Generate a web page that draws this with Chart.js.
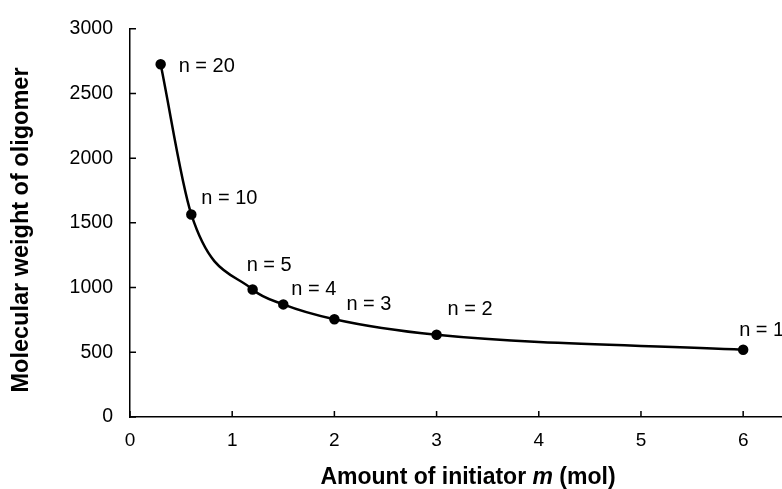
<!DOCTYPE html>
<html>
<head>
<meta charset="utf-8">
<script src="https://cdn.jsdelivr.net/npm/chart.js@4.4.1/dist/chart.umd.min.js"></script>
<style>
  html, body { margin: 0; padding: 0; background: #fff; overflow: hidden; }
  canvas { display: block; }
</style>
</head>
<body>
<canvas id="myChart" width="782" height="489"></canvas>
<script>
const initiator = [0.3, 0.6, 1.2, 1.5, 2, 3, 6];
const molWeight = [2725, 1565, 985, 870, 755, 635, 520];
const pointLabels = ["n = 20", "n = 10", "n = 5", "n = 4", "n = 3", "n = 2", "n = 1"];
// where each label sits relative to its point (px)
const labelOffsets = [[18, 2], [10, -16], [-6, -24], [8, -15], [12, -15], [11, -25], [-4, -19]];

const ctx = document.getElementById("myChart");
const font = "'Liberation Sans', Arial, sans-serif";

// inner tick marks + axis titles
const axisExtras = {
  id: "axisExtras",
  afterDraw(chart) {
    const c = chart.ctx;
    const x = chart.scales.x;
    const y = chart.scales.y;
    c.save();
    c.strokeStyle = "#000";
    c.lineWidth = 1.5;
    c.beginPath();
    x.ticks.forEach((t) => {
      const px = x.getPixelForValue(t.value);
      c.moveTo(px, y.bottom);
      c.lineTo(px, y.bottom - 6);
    });
    y.ticks.forEach((t) => {
      const py = y.getPixelForValue(t.value);
      c.moveTo(x.left, py);
      c.lineTo(x.left + 6, py);
    });
    c.stroke();

    c.fillStyle = "#000";
    c.textBaseline = "middle";

    // x title, m in italics
    const parts = [
      ["Amount of initiator ", "bold 23px " + font],
      ["m", "italic bold 23px " + font],
      [" (mol)", "bold 23px " + font],
    ];
    let total = 0;
    parts.forEach((p) => { c.font = p[1]; total += c.measureText(p[0]).width; });
    let tx = 468 - total / 2;
    c.textAlign = "left";
    parts.forEach((p) => {
      c.font = p[1];
      c.fillText(p[0], tx, 478);
      tx += c.measureText(p[0]).width;
    });

    // y title
    c.save();
    c.translate(22, 230);
    c.rotate(-Math.PI / 2);
    c.textAlign = "center";
    c.font = "bold 23.5px " + font;
    c.fillText("Molecular weight of oligomer", 0, 0);
    c.restore();
    c.restore();
  },
};

const nLabels = {
  id: "nLabels",
  afterDatasetsDraw(chart) {
    const c = chart.ctx;
    const meta = chart.getDatasetMeta(0);
    c.save();
    c.fillStyle = "#000";
    c.font = "20px " + font;
    c.textBaseline = "middle";
    c.textAlign = "left";
    meta.data.forEach((pt, i) => {
      c.fillText(pointLabels[i], pt.x + labelOffsets[i][0], pt.y + labelOffsets[i][1]);
    });
    c.restore();
  },
};

new Chart(ctx, {
  type: "scatter",
  data: {
    datasets: [
      {
        data: initiator.map((v, i) => ({ x: v, y: molWeight[i] })),
        showLine: true,
        borderColor: "#000",
        backgroundColor: "#000",
        borderWidth: 2.5,
        pointRadius: 4,
        cubicInterpolationMode: "monotone",
      },
    ],
  },
  options: {
    responsive: false,
    animation: false,
    layout: { autoPadding: false, padding: { top: 25, right: 0, left: 0, bottom: 0 } },
    plugins: { legend: { display: false }, tooltip: { enabled: false } },
    scales: {
      x: {
        type: "linear",
        min: 0,
        max: 6.38,
        afterFit: (s) => { s.height = 72; s.paddingLeft = 0; s.paddingRight = 0; },
        border: { color: "#000", width: 1.5 },
        grid: { display: false, drawTicks: false },
        ticks: { stepSize: 1, includeBounds: false, color: "#000", padding: 12, font: { family: font, size: 19 } },
      },
      y: {
        min: 0,
        max: 3000,
        afterFit: (s) => { s.width = 130; },
        border: { color: "#000", width: 1.5 },
        grid: { display: false, drawTicks: false },
        ticks: {
          stepSize: 500,
          color: "#000",
          padding: 17,
          font: { family: font, size: 19.5 },
          callback: (v) => String(v),
        },
      },
    },
  },
  plugins: [axisExtras, nLabels],
});
</script>
</body>
</html>
